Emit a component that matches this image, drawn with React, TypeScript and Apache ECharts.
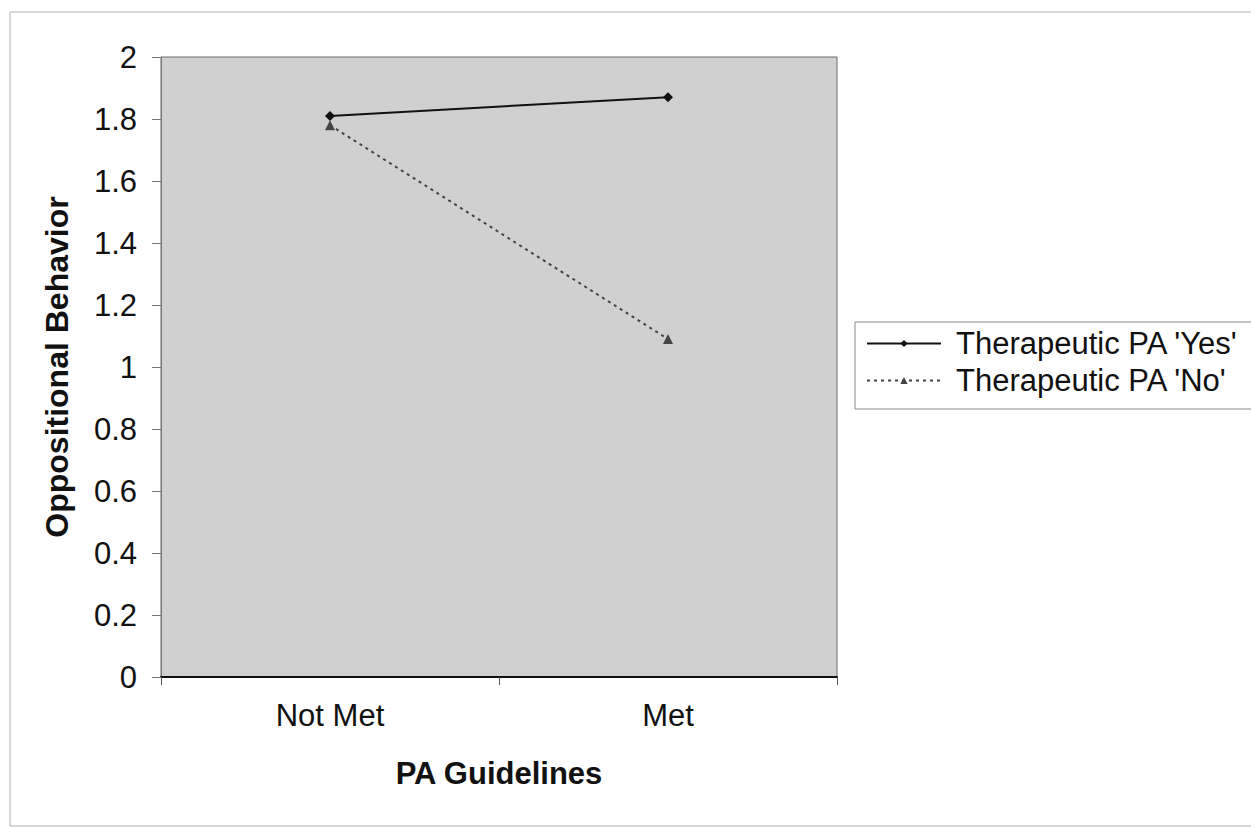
import React, { useEffect, useRef } from "react";
import * as echarts from "echarts";

const categories = ["Not Met", "Met"];
const yesValues = [1.81, 1.87];
const noValues = [1.78, 1.09];
const seriesNames = ["Therapeutic PA 'Yes'", "Therapeutic PA 'No'"];
const xTitle = "PA Guidelines";
const yTitle = "Oppositional Behavior";

const FONT = "'Liberation Sans', Arial, sans-serif";

export default function App() {
  const ref = useRef<HTMLDivElement>(null);
  useEffect(() => {
    if (!ref.current) return;
    const chart = echarts.init(ref.current, undefined, { renderer: "svg" });
    chart.setOption({
      animation: false,
      backgroundColor: "#ffffff",
      textStyle: { fontFamily: FONT },
      graphic: [
        {
          type: "rect",
          shape: { x: 10, y: 12, width: 1260, height: 814 },
          style: { fill: "none", stroke: "#b0b0b0", lineWidth: 1 },
          silent: true,
          z: -10,
        },
      ],
      grid: {
        left: 161,
        top: 57,
        width: 676,
        height: 620,
        show: true,
        backgroundColor: "#d0d0d0",
        borderColor: "#6a6a6a",
        borderWidth: 1,
        containLabel: false,
      },
      legend: {
        orient: "vertical",
        left: 855,
        top: 322,
        data: seriesNames,
        itemWidth: 74,
        itemHeight: 9,
        itemGap: 6,
        padding: [6, 30, 13, 11],
        borderColor: "#8a8a8a",
        borderWidth: 1,
        backgroundColor: "#ffffff",
        textStyle: {
          fontSize: 31,
          color: "#111",
          fontFamily: FONT,
          padding: [0, 0, 0, 10],
        },
      },
      xAxis: {
        type: "category",
        data: categories,
        boundaryGap: true,
        name: xTitle,
        nameLocation: "middle",
        nameGap: 81,
        nameTextStyle: { fontSize: 31, fontWeight: "bold", color: "#111", fontFamily: FONT },
        axisLine: { show: true, lineStyle: { color: "#111", width: 2 } },
        axisTick: { show: true, length: 8, lineStyle: { color: "#555" } },
        axisLabel: { fontSize: 31, color: "#111", margin: 23, fontFamily: FONT },
        splitLine: { show: false },
      },
      yAxis: {
        type: "value",
        min: 0,
        max: 2,
        interval: 0.2,
        name: yTitle,
        nameLocation: "middle",
        nameGap: 88,
        nameRotate: 90,
        nameTextStyle: { fontSize: 32, fontWeight: "bold", color: "#111", fontFamily: FONT },
        axisLine: { show: true, lineStyle: { color: "#777", width: 1 } },
        axisTick: { show: true, length: 9, lineStyle: { color: "#777" } },
        axisLabel: {
          fontSize: 31,
          color: "#111",
          margin: 24,
          fontFamily: FONT,
          formatter: (v: number) => String(Math.round(v * 10) / 10),
        },
        splitLine: { show: false },
      },
      series: [
        {
          name: seriesNames[0],
          type: "line",
          data: yesValues,
          symbol: "diamond",
          symbolSize: 10,
          itemStyle: { color: "#111" },
          lineStyle: { color: "#111", width: 2, type: "solid" },
        },
        {
          name: seriesNames[1],
          type: "line",
          data: noValues,
          symbol: "triangle",
          symbolSize: 10,
          itemStyle: { color: "#444" },
          lineStyle: { color: "#444", width: 2, type: [3, 4] },
        },
      ],
    });
    return () => chart.dispose();
  }, []);
  return (
    <div
      ref={ref}
      style={{ position: "fixed", left: 0, top: 0, width: 1251, height: 828 }}
    />
  );
}
